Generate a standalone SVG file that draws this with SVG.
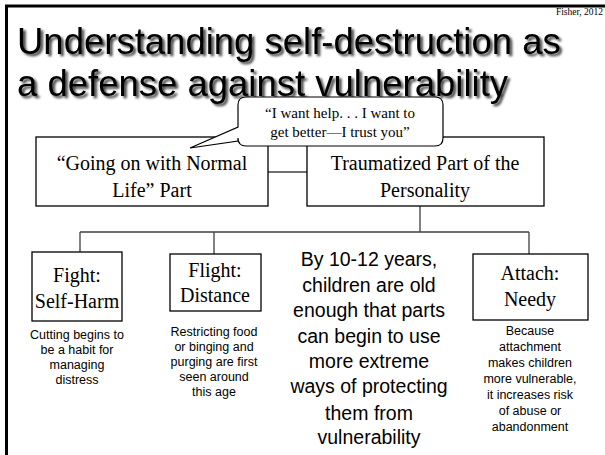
<svg xmlns="http://www.w3.org/2000/svg" width="605" height="455" viewBox="0 0 605 455">
<defs>
<filter id="shadow" x="-5%" y="-20%" width="110%" height="150%">
<feDropShadow dx="2.5" dy="2.3" stdDeviation="1" flood-color="#000" flood-opacity="0.75"/>
</filter>
</defs>
<style>
.box{fill:#fff;stroke:#000;stroke-width:1.3}
.conn{fill:none;stroke:#404040;stroke-width:1.3}
.tnr{font-family:"Liberation Serif","Times New Roman",serif;fill:#000}
.ar{font-family:"Liberation Sans",Arial,sans-serif;fill:#000}
.title{font-family:"Liberation Sans",Arial,sans-serif;font-size:36.5px;fill:#000;filter:url(#shadow)}
</style>
<rect x="0" y="0" width="605" height="455" fill="#fff"/>
<path d="M6.5,455 V6 H605" fill="none" stroke="#000" stroke-width="3"/>
<text class="tnr" x="603" y="15" font-size="9.5" text-anchor="end">Fisher, 2012</text>
<g id="title">
<text class="title" x="17" y="54">Understanding self-destruction as</text>
<text class="title" x="17" y="96">a defense against vulnerability</text>
</g>

<g id="connectors">
<line class="conn" x1="268" y1="172" x2="307" y2="172"/>
<path class="conn" d="M420,206 V232 M80,232 H529 M80,232 V252 M214,232 V254 M529,232 V254"/>
</g>

<g id="normal-life">
<rect class="box" x="36" y="137" width="232" height="69"/>
<text class="tnr" font-size="20" text-anchor="middle"><tspan x="152" y="170">“Going on with Normal</tspan><tspan x="152" y="197">Life” Part</tspan></text>
</g>
<g id="traumatized">
<rect class="box" x="307" y="137" width="237" height="69"/>
<text class="tnr" font-size="20" text-anchor="middle"><tspan x="425" y="170">Traumatized Part of the</tspan><tspan x="425" y="197">Personality</tspan></text>
</g>
<g id="bubble">
<path d="M246,97 H435 Q443,97 443,105 V138 Q443,146 435,146 H246 Q238,146 238,138 V141 L190,148 L238,127 V105 Q238,97 246,97 Z" fill="#fff" stroke="#000" stroke-width="1.2"/>
<text class="tnr" font-size="15" text-anchor="middle"><tspan x="340" y="118">“I want help. . . I want to</tspan><tspan x="340" y="137">get better—I trust you”</tspan></text>
</g>

<g id="fight">
<rect class="box" x="32" y="252" width="90" height="69"/>
<text class="tnr" font-size="20" text-anchor="middle"><tspan x="77" y="282">Fight:</tspan><tspan x="77" y="308">Self-Harm</tspan></text>
<text class="ar" font-size="12.5" text-anchor="middle"><tspan x="77" y="339">Cutting begins to</tspan><tspan x="77" y="354">be a habit for</tspan><tspan x="77" y="369">managing</tspan><tspan x="77" y="384">distress</tspan></text>
</g>
<g id="flight">
<rect class="box" x="170" y="254" width="91" height="57"/>
<text class="tnr" font-size="20" text-anchor="middle"><tspan x="215" y="277">Flight:</tspan><tspan x="215" y="302">Distance</tspan></text>
<text class="ar" font-size="12.5" text-anchor="middle"><tspan x="214" y="336">Restricting food</tspan><tspan x="214" y="351">or binging and</tspan><tspan x="214" y="366">purging are first</tspan><tspan x="214" y="381">seen around</tspan><tspan x="214" y="396">this age</tspan></text>
</g>
<g id="middle">
<text class="ar" font-size="19.5" text-anchor="middle"><tspan x="369" y="266">By 10-12 years,</tspan><tspan x="369" y="292">children are old</tspan><tspan x="369" y="317">enough that parts</tspan><tspan x="369" y="343">can begin to use</tspan><tspan x="369" y="368">more extreme</tspan><tspan x="369" y="393">ways of protecting</tspan><tspan x="369" y="420">them from</tspan><tspan x="369" y="444">vulnerability</tspan></text>
</g>
<g id="attach">
<rect class="box" x="473" y="254" width="115" height="66"/>
<text class="tnr" font-size="20" text-anchor="middle"><tspan x="530" y="280">Attach:</tspan><tspan x="530" y="306">Needy</tspan></text>
<text class="ar" font-size="12.5" text-anchor="middle"><tspan x="530" y="335">Because</tspan><tspan x="530" y="351">attachment</tspan><tspan x="530" y="367">makes children</tspan><tspan x="530" y="383">more vulnerable,</tspan><tspan x="530" y="399">it increases risk</tspan><tspan x="530" y="415">of abuse or</tspan><tspan x="530" y="431">abandonment</tspan></text>
</g>
</svg>
